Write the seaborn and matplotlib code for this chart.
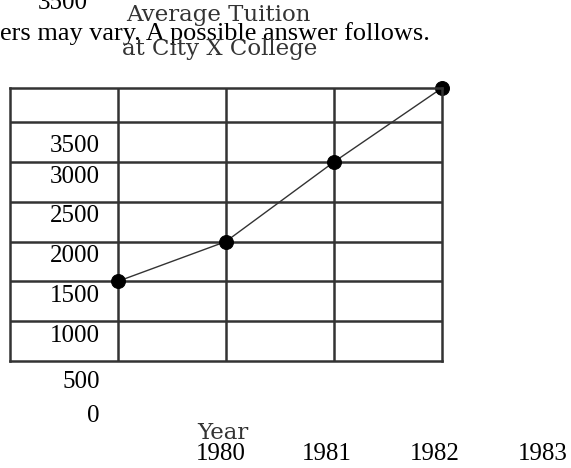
import matplotlib
matplotlib.use("Agg")
import matplotlib.pyplot as plt
import seaborn as sns
import pandas as pd

# Average tuition by year
years = [1980, 1981, 1982, 1983]
tuition = [1500, 2000, 3000, 3930]

# Printed value labels down the left side
y_labels = ["3500", "3000", "2500", "2000", "1500", "1000", "500", "0"]
x_labels = ["1980", "1981", "1982", "1983"]

title_lines = ["Average Tuition", "at City X College"]
x_title = "Year"
note = "ers may vary. A possible answer follows."
top_label = "3500"

W, H = 571, 468
sns.set_theme(style="white")
plt.rcParams["font.family"] = ["Liberation Serif", "DejaVu Serif"]

fig = plt.figure(figsize=(W / 100, H / 100), dpi=100)


def fx(px):
    return px / W


def fy(py):
    return 1 - py / H


# grid box in pixels: left, top, right, bottom
L, T, R, B = 9.5, 88, 442, 361
ax = fig.add_axes([fx(L), fy(B), fx(R - L), (B - T) / H])

df = pd.DataFrame({"Year": years, "Tuition": tuition})
sns.lineplot(data=df, x="Year", y="Tuition", ax=ax, color="#333333",
             linewidth=1.0, marker="o", markersize=10,
             markerfacecolor="black", markeredgecolor="black", clip_on=False)

ax.set_xlim(years[0] - 1, years[-1])
ax.set_ylim(500, max(tuition))
ax.set_xticks(years[:-1])
ax.set_yticks([1000, 1500, 2000, 2500, 3000, 3500])
ax.grid(True, color="#333333", linewidth=1.8)
ax.tick_params(length=0, labelbottom=False, labelleft=False)
ax.set_xlabel("")
ax.set_ylabel("")
for s in ax.spines.values():
    s.set_visible(True)
    s.set_color("#333333")
    s.set_linewidth(1.8)

txt = dict(color="black", fontsize=18)
gray = dict(color="#333333", fontsize=16.5, family=["DejaVu Serif"])

# left-hand value labels (baseline positions)
for lab, base in zip(y_labels, [151.5, 183, 221.5, 261.5, 301.5, 341.5, 388, 421.5]):
    fig.text(fx(100), fy(base), lab, ha="right", va="baseline", **txt)

# year labels along the bottom
for lab, cx in zip(x_labels, [221, 327, 435, 543]):
    fig.text(fx(cx), fy(460), lab, ha="center", va="baseline", **txt)

fig.text(fx(63), fy(9), top_label, ha="center", va="baseline", **txt)
fig.text(fx(0), fy(40), note, ha="left", va="baseline", color="black", fontsize=18.9)

fig.text(fx(218), fy(21.5), title_lines[0], ha="center", va="baseline", **gray)
fig.text(fx(220), fy(55.5), title_lines[1], ha="center", va="baseline", **gray)
fig.text(fx(223), fy(439), x_title, ha="center", va="baseline", **gray)

fig.savefig("out.png", dpi=100)
